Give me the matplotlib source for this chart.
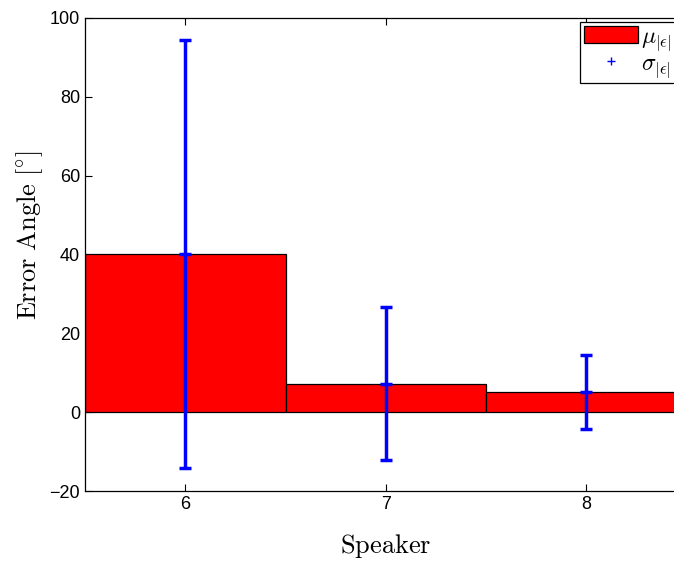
import numpy as np
import matplotlib
matplotlib.use("Agg")
from matplotlib import pyplot as plt
from matplotlib.patches import Patch
from matplotlib.lines import Line2D

plt.rcParams['mathtext.fontset'] = 'cm'
plt.rcParams['font.family'] = ['Liberation Sans', 'DejaVu Sans']

speakers = [6, 7, 8]
mean_err = [40.1, 7.2, 5.1]
std_err = [54.3, 19.4, 9.4]

fig = plt.figure(figsize=(6.74, 5.65), dpi=100)
ax = fig.add_axes([85/674, 74/565, 601.5/674, 473/565])

ax.bar(speakers, mean_err, width=1.0, color='#ff0000', edgecolor='black', linewidth=0.9, zorder=2)
ax.errorbar(speakers, mean_err, yerr=std_err, fmt='_', color='#0000ff', ecolor='#0000ff',
            elinewidth=2.5, capsize=4, capthick=2.5, markersize=8, mew=2.5, zorder=3)

ax.set_xlim(5.5, 8.5)
ax.set_ylim(-20, 100)
ax.set_xticks(speakers)
ax.set_yticks(np.arange(-20, 101, 20))
ax.set_yticklabels(['\u221220', '0', '20', '40', '60', '80', '100'])
ax.tick_params(direction='in', top=True, right=True, labelsize=13, length=5, width=0.8)
for s in ax.spines.values():
    s.set_linewidth(0.9)

ax.set_xlabel(r'$\mathrm{Speaker}$', fontsize=19, labelpad=14)
ax.set_ylabel(r'$\mathrm{Error\ Angle\ [^{\circ}]}$', fontsize=19)
ax.yaxis.set_label_coords(-0.067, 0.54)

handles = [Patch(facecolor='#ff0000', edgecolor='black', linewidth=0.9),
           Line2D([], [], marker='+', color='#0000ff', linestyle='none', markersize=6)]
leg = ax.legend(handles, [r'$\mu_{|\epsilon|}$', r'$\sigma_{|\epsilon|}$'],
                loc='upper left', bbox_to_anchor=(0.823, 0.9915), fontsize=17,
                fancybox=False, framealpha=1, edgecolor='black', borderpad=0.15,
                handlelength=2.3, handleheight=0.7, handletextpad=0.15,
                labelspacing=0.0, borderaxespad=0)
leg.get_frame().set_linewidth(0.9)

fig.savefig('out.png', dpi=100)
